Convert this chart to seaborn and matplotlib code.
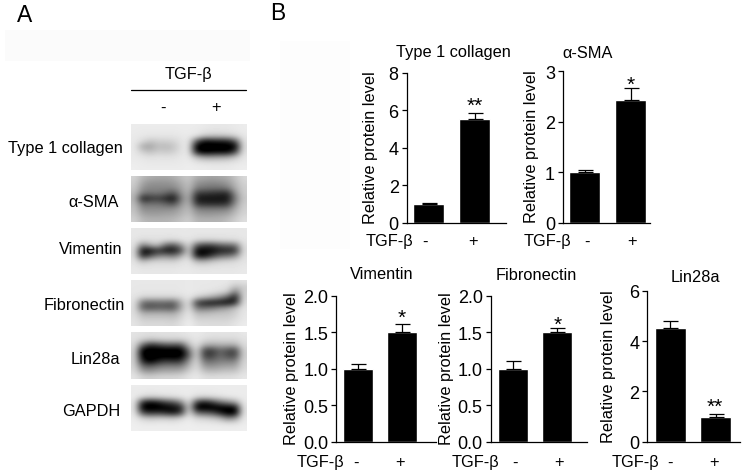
import numpy as np
import pandas as pd
import seaborn as sns
import matplotlib.pyplot as plt
from matplotlib.patches import Rectangle

W, H = 749, 477

sns.set_theme(style="ticks")
plt.rcParams['font.family'] = ['Liberation Sans', 'DejaVu Sans']

conditions = ["-", "+"]

collagen_vals = [1.0, 5.55]
collagen_err = [0.05, 0.3]
sma_vals = [1.0, 2.43]
sma_err = [0.05, 0.24]
vimentin_vals = [1.0, 1.5]
vimentin_err = [0.06, 0.11]
fibronectin_vals = [1.0, 1.5]
fibronectin_err = [0.11, 0.06]
lin28a_vals = [4.5, 1.0]
lin28a_err = [0.28, 0.1]

blot_names = ["Type 1 collagen", "α-SMA", "Vimentin", "Fibronectin", "Lin28a", "GAPDH"]

blot_collagen = [
    [232, 232, 232, 232, 232, 232, 232, 232, 232, 230, 228, 228, 228, 230, 232],
    [232, 230, 230, 230, 230, 230, 232, 232, 230, 226, 224, 224, 226, 228, 232],
    [230, 228, 226, 226, 226, 226, 228, 230, 225, 200, 195, 195, 198, 210, 228],
    [230, 215, 195, 205, 205, 210, 224, 230, 90, 20, 30, 35, 40, 90, 225],
    [230, 170, 165, 190, 185, 195, 222, 230, 0, 0, 0, 0, 0, 10, 222],
    [230, 205, 190, 205, 200, 205, 224, 230, 30, 0, 10, 15, 15, 70, 225],
    [230, 226, 222, 224, 222, 224, 228, 230, 185, 160, 160, 165, 170, 195, 228],
    [232, 230, 228, 228, 228, 228, 230, 232, 226, 222, 220, 220, 222, 226, 230],
    [234, 232, 232, 232, 232, 232, 232, 234, 232, 232, 230, 230, 230, 232, 234],
]
blot_sma = [
    [210, 185, 175, 170, 170, 175, 190, 200, 175, 170, 165, 170, 175, 195, 215],
    [205, 165, 150, 150, 150, 155, 175, 195, 150, 145, 140, 145, 155, 185, 210],
    [200, 150, 140, 140, 140, 140, 165, 190, 130, 125, 120, 120, 130, 175, 205],
    [190, 125, 120, 125, 110, 85, 150, 185, 70, 65, 60, 55, 50, 150, 205],
    [185, 40, 60, 70, 50, 25, 130, 180, 35, 30, 30, 30, 30, 130, 200],
    [190, 115, 120, 120, 105, 85, 150, 185, 65, 55, 55, 55, 60, 150, 205],
    [195, 145, 145, 145, 145, 150, 170, 190, 135, 130, 130, 130, 135, 175, 208],
    [200, 165, 160, 160, 165, 165, 180, 195, 160, 155, 155, 160, 165, 190, 212],
    [208, 185, 180, 180, 180, 185, 195, 205, 180, 180, 180, 180, 190, 205, 220],
]
blot_vimentin = [
    [228, 228, 228, 228, 228, 228, 228, 228, 228, 228, 228, 228, 228, 228, 228],
    [228, 226, 226, 226, 226, 226, 228, 228, 226, 226, 226, 226, 226, 226, 228],
    [226, 218, 220, 222, 218, 215, 222, 226, 215, 212, 212, 216, 218, 220, 226],
    [225, 130, 170, 190, 110, 90, 150, 222, 100, 70, 75, 100, 110, 120, 222],
    [222, 15, 25, 60, 30, 30, 80, 220, 15, 15, 20, 40, 45, 55, 220],
    [222, 40, 90, 130, 140, 120, 170, 222, 30, 25, 70, 110, 120, 145, 222],
    [225, 185, 205, 210, 210, 205, 220, 228, 180, 175, 195, 205, 210, 215, 225],
    [228, 222, 224, 224, 224, 224, 226, 228, 222, 220, 222, 224, 224, 224, 228],
    [230, 228, 228, 228, 228, 228, 230, 230, 228, 228, 228, 228, 228, 228, 230],
]
blot_fibronectin = [
    [228, 228, 228, 228, 228, 228, 228, 230, 228, 228, 228, 228, 228, 222, 225],
    [228, 228, 228, 228, 228, 228, 228, 230, 228, 228, 228, 226, 222, 190, 205],
    [228, 226, 226, 226, 226, 226, 228, 230, 228, 226, 222, 215, 205, 120, 210],
    [225, 210, 210, 210, 210, 210, 215, 230, 205, 190, 170, 145, 100, 30, 215],
    [225, 115, 105, 110, 110, 100, 175, 230, 70, 40, 30, 30, 20, 50, 222],
    [222, 100, 90, 100, 95, 90, 170, 230, 120, 115, 125, 145, 160, 190, 225],
    [220, 175, 175, 175, 175, 170, 200, 230, 185, 185, 190, 195, 195, 205, 228],
    [222, 200, 200, 200, 200, 195, 212, 232, 205, 205, 205, 205, 205, 215, 228],
    [225, 215, 215, 215, 215, 212, 222, 235, 220, 218, 218, 218, 218, 225, 232],
]
blot_lin28a = [
    [224, 222, 220, 222, 222, 222, 224, 228, 230, 226, 224, 224, 224, 224, 228],
    [222, 205, 195, 200, 205, 205, 205, 215, 228, 215, 210, 212, 212, 212, 222],
    [218, 110, 50, 70, 90, 90, 90, 190, 225, 175, 170, 175, 175, 175, 218],
    [215, 0, 0, 0, 0, 0, 0, 120, 222, 75, 70, 110, 90, 75, 210],
    [212, 0, 0, 0, 0, 0, 0, 100, 222, 70, 70, 115, 85, 75, 208],
    [212, 40, 0, 40, 60, 50, 60, 150, 222, 115, 115, 130, 130, 130, 212],
    [212, 110, 100, 120, 130, 130, 130, 180, 222, 155, 150, 160, 165, 165, 215],
    [218, 160, 150, 165, 170, 170, 175, 205, 225, 190, 185, 190, 195, 195, 220],
    [225, 210, 205, 210, 212, 212, 215, 225, 230, 220, 218, 220, 220, 222, 228],
]
blot_gapdh = [
    [232, 232, 232, 232, 232, 232, 232, 232, 232, 232, 232, 232, 232, 232, 232],
    [230, 230, 228, 230, 230, 230, 232, 232, 230, 230, 230, 232, 232, 232, 232],
    [232, 215, 205, 210, 215, 220, 225, 232, 215, 210, 215, 220, 228, 230, 232],
    [230, 50, 20, 40, 75, 90, 140, 228, 70, 35, 70, 115, 140, 165, 230],
    [228, 0, 0, 0, 10, 20, 45, 222, 0, 0, 0, 5, 10, 15, 228],
    [230, 80, 55, 65, 50, 30, 70, 228, 110, 95, 85, 40, 0, 0, 228],
    [232, 205, 195, 200, 200, 195, 210, 232, 210, 205, 195, 180, 130, 150, 230],
    [234, 230, 228, 230, 230, 228, 232, 234, 230, 230, 228, 226, 222, 222, 232],
    [235, 234, 234, 234, 234, 234, 234, 235, 234, 234, 234, 234, 234, 234, 235],
]
blots = [blot_collagen, blot_sma, blot_vimentin, blot_fibronectin, blot_lin28a, blot_gapdh]

# layout in reference pixels
blot_tops = [125, 176.7, 228.7, 281, 333.3, 386]
blot_label_pos = [(65, 149), (94, 203), (91, 250), (84, 305), (95, 360), (91, 411)]

panels = [
    dict(title="Type 1 collagen", vals=collagen_vals, err=collagen_err, star="**", ymax=8,
         yticks=[0, 2, 4, 6, 8], ytl=["0", "2", "4", "6", "8"],
         left=406.7, right=506, top=74, bottom=223.7, bars=(428.8, 474.7), bw=31,
         title_xy=(453, 53), yl_x=370, tgf_x=389, sign_y=242, sign_x=(425, 473), star_xy=(475, 103)),
    dict(title="α-SMA", vals=sma_vals, err=sma_err, star="*", ymax=3,
         yticks=[0, 1, 2, 3], ytl=["0", "1", "2", "3"],
         left=563, right=650, top=72.3, bottom=223.7, bars=(584.8, 630.5), bw=31,
         title_xy=(588, 53), yl_x=531, tgf_x=547.5, sign_y=242, sign_x=(587, 632), star_xy=(631, 82)),
    dict(title="Vimentin", vals=vimentin_vals, err=vimentin_err, star="*", ymax=2,
         yticks=[0, 0.5, 1, 1.5, 2], ytl=["0.0", "0.5", "1.0", "1.5", "2.0"],
         left=336.3, right=435.7, top=296.7, bottom=442.7, bars=(357.9, 401.9), bw=30,
         title_xy=(382, 275), yl_x=291, tgf_x=320, sign_y=463, sign_x=(355.7, 400), star_xy=(402, 315)),
    dict(title="Fibronectin", vals=fibronectin_vals, err=fibronectin_err, star="*", ymax=2,
         yticks=[0, 0.5, 1, 1.5, 2], ytl=["0.0", "0.5", "1.0", "1.5", "2.0"],
         left=490.7, right=586.7, top=296.7, bottom=442.7, bars=(512.9, 557), bw=30,
         title_xy=(536, 276), yl_x=446, tgf_x=475.7, sign_y=463, sign_x=(515, 559), star_xy=(558, 322)),
    dict(title="Lin28a", vals=lin28a_vals, err=lin28a_err, star="**", ymax=6,
         yticks=[0, 2, 4, 6], ytl=["0", "2", "4", "6"],
         left=647.3, right=740, top=291.7, bottom=442.7, bars=(670.2, 715.7), bw=31,
         title_xy=(695, 277), yl_x=608, tgf_x=635, sign_y=463, sign_x=(670, 714), star_xy=(715, 404)),
]

FS = 11.8


def add_ax(left, right, top, bottom):
    return fig.add_axes([left / W, 1 - bottom / H, (right - left) / W, (bottom - top) / H])


def ftext(x, y, s, size=FS, **kw):
    kw.setdefault("ha", "center")
    kw.setdefault("va", "center")
    return fig.text(x / W, 1 - y / H, s, fontsize=size, color="black", **kw)


fig = plt.figure(figsize=(W / 100, H / 100), dpi=100, facecolor="white")

# faint scan patches behind the figure
fig.patches.append(Rectangle((5 / W, 1 - 62 / H), 245 / W, 31 / H, transform=fig.transFigure,
                             facecolor="#fbfbfb", edgecolor="none", zorder=-5))
fig.patches.append(Rectangle((280 / W, 1 - 250 / H), 70 / W, 208 / H, transform=fig.transFigure,
                             facecolor="#fdfdfd", edgecolor="none", zorder=-5))

ftext(25, 15, "A", size=16.5)
ftext(278, 14, "B", size=16.5)

# panel A
ftext(188, 74, "TGF-β")
fig.add_artist(plt.Line2D([131 / W, 246 / W], [1 - 91.3 / H] * 2, color="black", lw=0.9))
ftext(163, 108, "-")
ftext(216, 108, "+")

for name, grid, top, pos in zip(blot_names, blots, blot_tops, blot_label_pos):
    ax = add_ax(131, 246.7, top, top + 46.3)
    ax.imshow(np.array(grid), cmap="gray", vmin=15, vmax=250, aspect="auto", interpolation="bicubic")
    ax.axis("off")
    ftext(pos[0], pos[1], name)

# panel B
for p in panels:
    ax = add_ax(p["left"], p["right"], p["top"], p["bottom"])
    ax.patch.set_alpha(0)
    df = pd.DataFrame({"cond": conditions, "val": p["vals"]})
    step = p["bars"][1] - p["bars"][0]
    sns.barplot(data=df, x="cond", y="val", color="black", saturation=1, width=p["bw"] / step,
                errorbar=None, ax=ax)
    ax.errorbar([0, 1], p["vals"], yerr=[[0, 0], p["err"]], fmt="none", ecolor="black",
                elinewidth=0.9, capsize=5.4, capthick=0.9)
    ax.set_xlim((p["left"] - p["bars"][0]) / step, (p["right"] - p["bars"][0]) / step)
    ax.set_ylim(0, p["ymax"])
    ax.set_yticks(p["yticks"])
    ax.set_yticklabels(p["ytl"])
    ax.set_xticks([])
    ax.set_xlabel("")
    ax.set_ylabel("")
    ax.tick_params(axis="y", length=3.8, width=0.9, pad=2, labelsize=13, color="black", labelcolor="black")
    sns.despine(ax=ax)
    for s in ("left", "bottom"):
        ax.spines[s].set_linewidth(0.9)
        ax.spines[s].set_color("black")
    ftext(p["title_xy"][0], p["title_xy"][1], p["title"])
    ftext(p["yl_x"] + 0.5, (p["top"] + p["bottom"]) / 2 - 1, "Relative protein level", rotation=90)
    ftext(p["tgf_x"], p["sign_y"], "TGF-β")
    ftext(p["sign_x"][0], p["sign_y"], conditions[0])
    ftext(p["sign_x"][1], p["sign_y"], conditions[1])
    ftext(p["star_xy"][0], p["star_xy"][1] + 3, p["star"], size=15)

fig.savefig("out.png", dpi=100)
